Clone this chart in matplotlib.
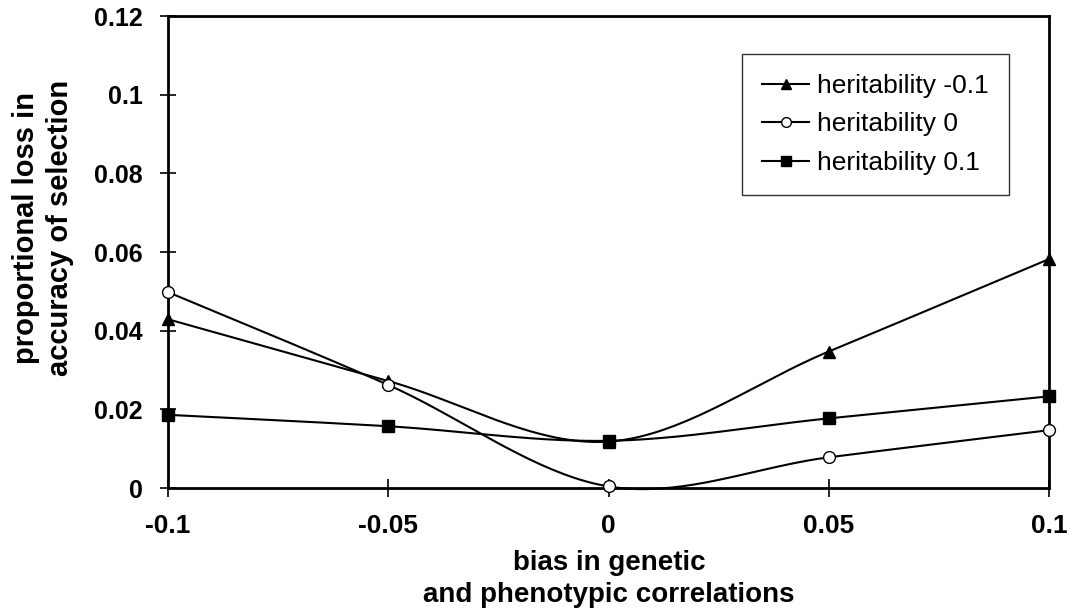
import numpy as np
import matplotlib
matplotlib.use("Agg")
import matplotlib.pyplot as plt
from matplotlib.lines import Line2D

bias = [-0.1, -0.05, 0.0, 0.05, 0.1]
h_neg = [0.0429, 0.0272, 0.0118, 0.0347, 0.0582]
h_zero = [0.0498, 0.0262, 0.0004, 0.0078, 0.0147]
h_pos = [0.0186, 0.0157, 0.0120, 0.0177, 0.0233]
labels = ["heritability -0.1", "heritability 0", "heritability 0.1"]
xticks = [-0.1, -0.05, 0, 0.05, 0.1]
xticklabels = ["-0.1", "-0.05", "0", "0.05", "0.1"]
yticks = [0, 0.02, 0.04, 0.06, 0.08, 0.1, 0.12]
yticklabels = ["0", "0.02", "0.04", "0.06", "0.08", "0.1", "0.12"]

plt.rcParams['font.family'] = ['Liberation Sans', 'DejaVu Sans']


def smooth(x, y, n=40):
    # Excel-style smoothed line: cubic Bezier segments through the points
    x = np.asarray(x, float)
    y = np.asarray(y, float)
    px = np.concatenate([[x[0]], x, [x[-1]]])
    py = np.concatenate([[y[0]], y, [y[-1]]])
    xs, ys = [], []
    t = np.linspace(0, 1, n)
    for i in range(len(x) - 1):
        p0 = np.array([px[i + 1], py[i + 1]])
        p3 = np.array([px[i + 2], py[i + 2]])
        c1 = p0 + (np.array([px[i + 2], py[i + 2]]) - np.array([px[i], py[i]])) / 6
        c2 = p3 - (np.array([px[i + 3], py[i + 3]]) - np.array([px[i + 1], py[i + 1]])) / 6
        b = ((1 - t) ** 3)[:, None] * p0 + (3 * (1 - t) ** 2 * t)[:, None] * c1 \
            + (3 * (1 - t) * t ** 2)[:, None] * c2 + (t ** 3)[:, None] * p3
        xs.append(b[:, 0])
        ys.append(b[:, 1])
    return np.concatenate(xs), np.concatenate(ys)


fig = plt.figure(figsize=(10.75, 6.13), dpi=100)
# axes frame: x 168..1049 px, y 16..488 px
ax = fig.add_axes([168 / 1075, (613 - 488) / 613, 881 / 1075, 472 / 613])

series = [(h_neg, '^', 'black'), (h_zero, 'o', 'white'), (h_pos, 's', 'black')]
handles = []
for (vals, mk, fc), lab in zip(series, labels):
    sx, sy = smooth(bias, vals)
    ax.plot(sx, sy, color='black', lw=1.5, zorder=2, clip_on=False)
    ax.plot(bias, vals, linestyle='none', marker=mk, markersize=8.5,
            markerfacecolor=fc, markeredgecolor='black', markeredgewidth=1.0,
            zorder=3, clip_on=False)
    handles.append(Line2D([], [], color='black', lw=1.5, marker=mk, markersize=7,
                          markerfacecolor=fc, markeredgecolor='black', label=lab))

ax.set_xlim(-0.1, 0.1)
ax.set_ylim(0, 0.12)
ax.set_xticks(xticks)
ax.set_xticklabels(xticklabels, fontsize=19, fontweight='bold')
ax.set_yticks(yticks)
ax.set_yticklabels(yticklabels, fontsize=18, fontweight='bold')
ax.tick_params(axis='x', direction='inout', length=13, width=1.2, color='black', pad=12)
ax.tick_params(axis='y', direction='inout', length=12, width=1.2, color='black', pad=12)
for s in ax.spines.values():
    s.set_linewidth(2.0)
    s.set_color('black')

fig.text(609 / 1075, 1 - 579 / 613, "bias in genetic\nand phenotypic correlations",
         fontsize=20, fontweight='bold', ha='center', va='center',
         multialignment='center', linespacing=1.35)
fig.text(43 / 1075, 1 - 228 / 613, "proportional loss in\naccuracy of selection",
         fontsize=21, fontweight='bold', ha='center', va='center', rotation=90,
         multialignment='center', linespacing=1.3)

leg = ax.legend(handles=handles, loc='upper left',
                bbox_to_anchor=((742 - 168) / 881, (488 - 54) / 472),
                fontsize=19, frameon=True, fancybox=False, handlelength=1.8,
                handletextpad=0.3, labelspacing=0.55, borderpad=0.75, borderaxespad=0)
leg.get_frame().set_edgecolor('black')
leg.get_frame().set_linewidth(1.0)

fig.savefig("out.png", dpi=100)
